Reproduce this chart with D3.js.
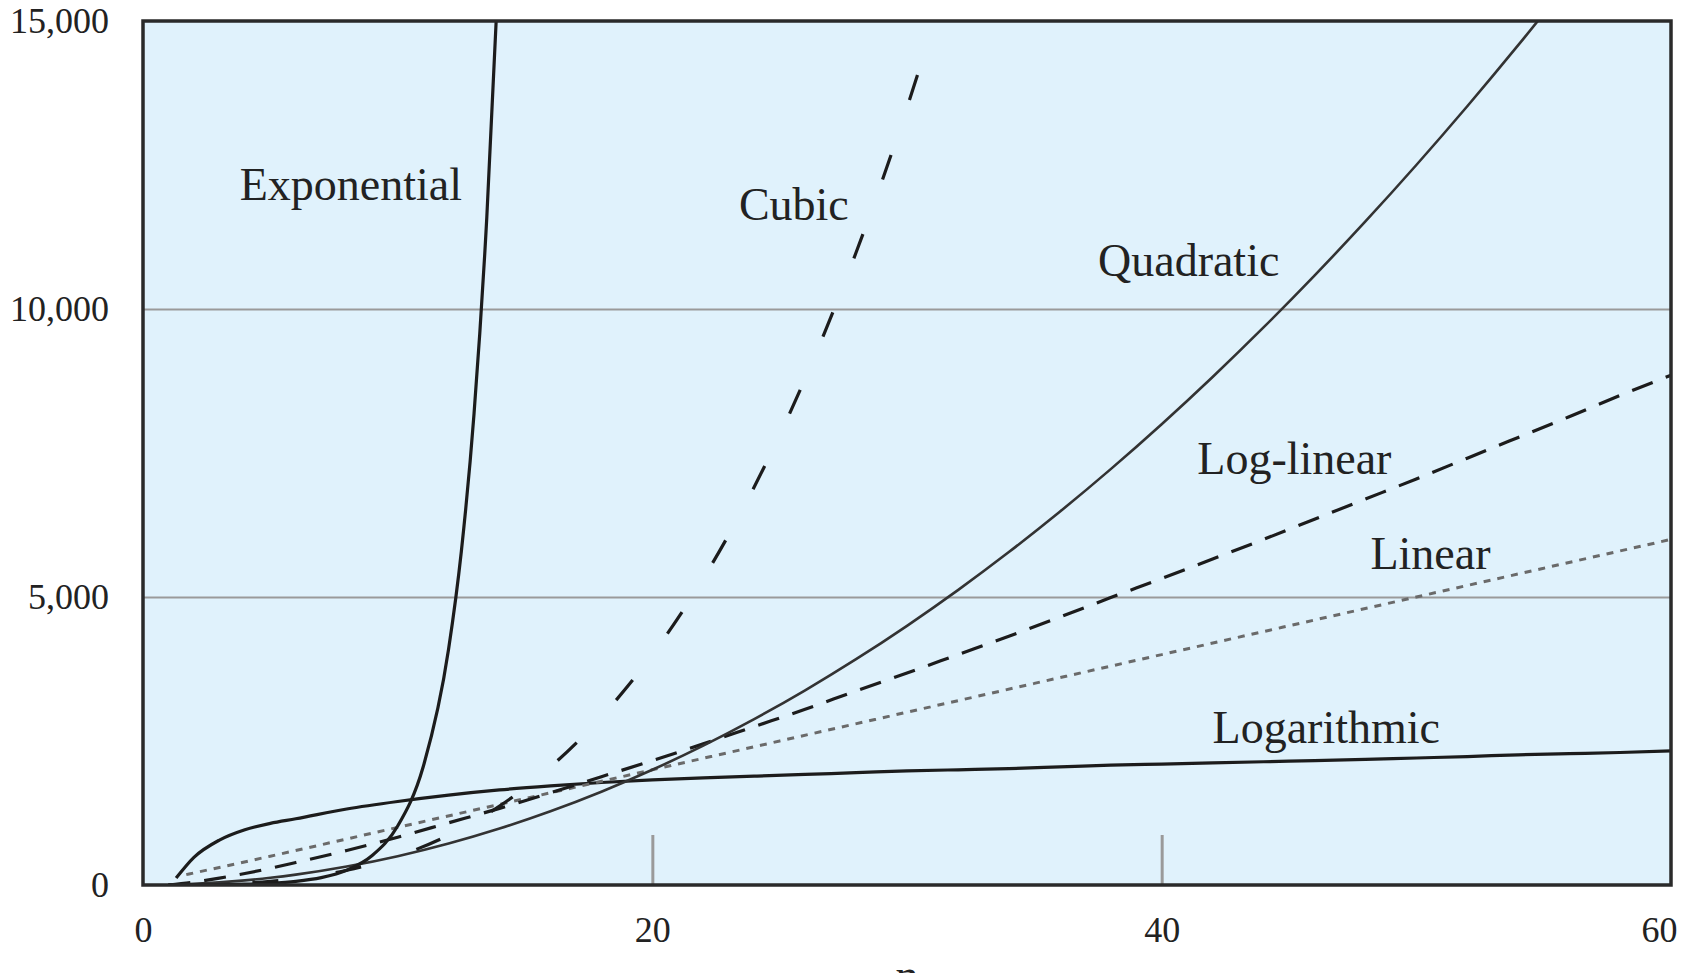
<!DOCTYPE html>
<html>
  <head>
    <meta charset="utf-8" />
    <title>Growth rates</title>
    <script src="https://cdn.jsdelivr.net/npm/d3@7"></script>
    <style>
      body { margin: 0; background: #fff; overflow: hidden; }
      svg { display: block; }
      text { font-family: "Liberation Serif", "DejaVu Serif", serif; fill: #222; }
    </style>
  </head>
  <body>
    <svg width="1692" height="973" id="mainsvg"></svg>
    <script>
      // values
      const xTicks = [0, 20, 40, 60];
      const yTicks = [0, 5000, 10000, 15000];

      const logN = [1.3, 2, 3, 4, 5, 6, 8, 10, 12, 14, 16, 18, 20, 22, 24, 26, 28, 30, 32, 34, 36, 38, 40, 42, 44, 46, 48, 50, 52, 54, 56, 58, 60];
      const logarithmic = [120, 480, 780, 960, 1070, 1150, 1320, 1450, 1560, 1650, 1720, 1780, 1825, 1860, 1890, 1920, 1950, 1980, 2000, 2020, 2050, 2080, 2100, 2120, 2140, 2160, 2180, 2205, 2230, 2260, 2280, 2300, 2330];

      const linN = [1.7, 5, 10, 15, 20, 25, 30, 35, 40, 45, 50, 55, 60];
      const linear = [180, 500, 1000, 1500, 2000, 2500, 3000, 3500, 4000, 4500, 5000, 5500, 6000];

      const loglinN = [1, 2, 3, 4, 5, 6, 8, 10, 12, 14, 16, 18, 20, 22, 24, 26, 28, 30, 32, 34, 36, 38, 40, 42, 44, 46, 48, 50, 52, 54, 56, 58, 60];
      const logLinear = [0, 50, 120, 200, 290, 390, 600, 830, 1080, 1330, 1600, 1880, 2160, 2450, 2750, 3050, 3370, 3680, 4000, 4320, 4650, 4990, 5320, 5660, 6000, 6350, 6700, 7050, 7410, 7770, 8130, 8500, 8850];

      const quadN = [1, 2, 3, 4, 5, 6, 8, 10, 12, 14, 16, 18, 20, 22, 24, 26, 28, 30, 32, 34, 36, 38, 40, 42, 44, 46, 48, 50, 52, 54, 56];
      const quadratic = [5, 20, 45, 80, 125, 180, 320, 500, 720, 980, 1280, 1620, 2000, 2420, 2880, 3380, 3920, 4500, 5120, 5780, 6480, 7220, 8000, 8820, 9680, 10580, 11520, 12500, 13520, 14580, 15680];

      const cubicN = [1, 2, 3, 4, 5, 6, 8, 10, 12, 14, 16, 18, 20, 22, 24, 26, 28, 30, 30.8];
      const cubic = [0, 4, 14, 32, 63, 108, 256, 500, 864, 1370, 2050, 2920, 4000, 5320, 6910, 8790, 10980, 13500, 14600];

      const expN = [1, 2, 3, 4, 5, 6, 7, 8, 9, 10, 11, 12, 12.5, 13, 13.5, 13.9];
      const exponential = [2, 4, 8, 16, 32, 64, 128, 256, 512, 1024, 2048, 4096, 5790, 8190, 11590, 15300];

      const svg = d3.select("#mainsvg");
      const margin = { top: 21, right: 21, bottom: 88, left: 143 };
      const innerWidth = +svg.attr("width") - margin.left - margin.right;
      const innerHeight = +svg.attr("height") - margin.top - margin.bottom;

      const g = svg.append("g")
        .attr("transform", `translate(${margin.left}, ${margin.top})`);

      const xScale = d3.scaleLinear().domain([0, 60]).range([0, innerWidth]);
      const yScale = d3.scaleLinear().domain([0, 15000]).range([innerHeight, 0]);

      g.append("rect")
        .attr("width", innerWidth)
        .attr("height", innerHeight)
        .attr("fill", "#e0f2fc");

      g.append("clipPath").attr("id", "plotclip")
        .append("rect").attr("width", innerWidth).attr("height", innerHeight);

      // horizontal grid
      g.append("g")
        .call(d3.axisLeft(yScale).tickValues([5000, 10000]).tickSize(-innerWidth).tickFormat(""))
        .call(s => s.select(".domain").remove())
        .selectAll("line").attr("stroke", "#9a9a9a").attr("stroke-width", 2);

      // short vertical ticks
      g.append("g")
        .attr("transform", `translate(0, ${innerHeight})`)
        .call(d3.axisBottom(xScale).tickValues([20, 40]).tickSize(-50).tickFormat(""))
        .call(s => s.select(".domain").remove())
        .selectAll("line").attr("stroke", "#9a9a9a").attr("stroke-width", 3);

      const series = [
        { name: "Logarithmic", n: logN, v: logarithmic, color: "#1c1c1c", width: 3.2, dash: null },
        { name: "Linear", n: linN, v: linear, color: "#6a6a6a", width: 3, dash: "7,7" },
        { name: "Log-linear", n: loglinN, v: logLinear, color: "#1c1c1c", width: 3.2, dash: "22,14" },
        { name: "Quadratic", n: quadN, v: quadratic, color: "#333", width: 2.6, dash: null },
        { name: "Cubic", n: cubicN, v: cubic, color: "#1c1c1c", width: 3.2, dash: "26,58" },
        { name: "Exponential", n: expN, v: exponential, color: "#1c1c1c", width: 3.2, dash: null },
      ];

      const line = d3.line()
        .x(d => xScale(d[0]))
        .y(d => yScale(d[1]))
        .curve(d3.curveMonotoneX);

      const lines = g.append("g").attr("clip-path", "url(#plotclip)");
      series.forEach(s => {
        lines.append("path")
          .datum(s.n.map((n, i) => [n, s.v[i]]))
          .attr("d", line)
          .attr("fill", "none")
          .attr("stroke", s.color)
          .attr("stroke-width", s.width)
          .attr("stroke-dasharray", s.dash);
      });

      // curve labels (left x in n units, baseline in value units)
      const labels = [
        { text: "Exponential", n: 3.8, v: 11900 },
        { text: "Cubic", n: 23.4, v: 11540 },
        { text: "Quadratic", n: 37.5, v: 10570 },
        { text: "Log-linear", n: 41.4, v: 7140 },
        { text: "Linear", n: 48.2, v: 5480 },
        { text: "Logarithmic", n: 42.0, v: 2460 },
      ];
      g.selectAll(".curvelabel")
        .data(labels)
        .join("text")
        .attr("class", "curvelabel")
        .attr("x", d => xScale(d.n))
        .attr("y", d => yScale(d.v))
        .attr("font-size", 46)
        .text(d => d.text);

      // frame
      g.append("rect")
        .attr("width", innerWidth)
        .attr("height", innerHeight)
        .attr("fill", "none")
        .attr("stroke", "#2a2a2a")
        .attr("stroke-width", 3.5);

      // axes labels
      const yAxis = d3.axisLeft(yScale).tickValues(yTicks).tickFormat(d3.format(",")).tickSize(0).tickPadding(34);
      const xAxis = d3.axisBottom(xScale).tickValues(xTicks).tickFormat(d3.format("d")).tickSize(0).tickPadding(31);
      g.append("g").call(yAxis).call(s => s.select(".domain").remove());
      g.append("g")
        .attr("transform", `translate(0, ${innerHeight})`)
        .call(xAxis)
        .call(s => s.select(".domain").remove())
        .selectAll(".tick text")
        .attr("dx", d => (d === 60 ? -12 : 0));
      g.selectAll(".tick text")
        .attr("font-family", "Liberation Serif, DejaVu Serif, serif")
        .attr("font-size", 36)
        .attr("fill", "#222");

      // axis title, mostly below the picture edge as in the source
      g.append("text")
        .attr("x", xScale(30))
        .attr("y", innerHeight + 106)
        .attr("text-anchor", "middle")
        .attr("font-size", 46)
        .text("n");
    </script>
  </body>
</html>
